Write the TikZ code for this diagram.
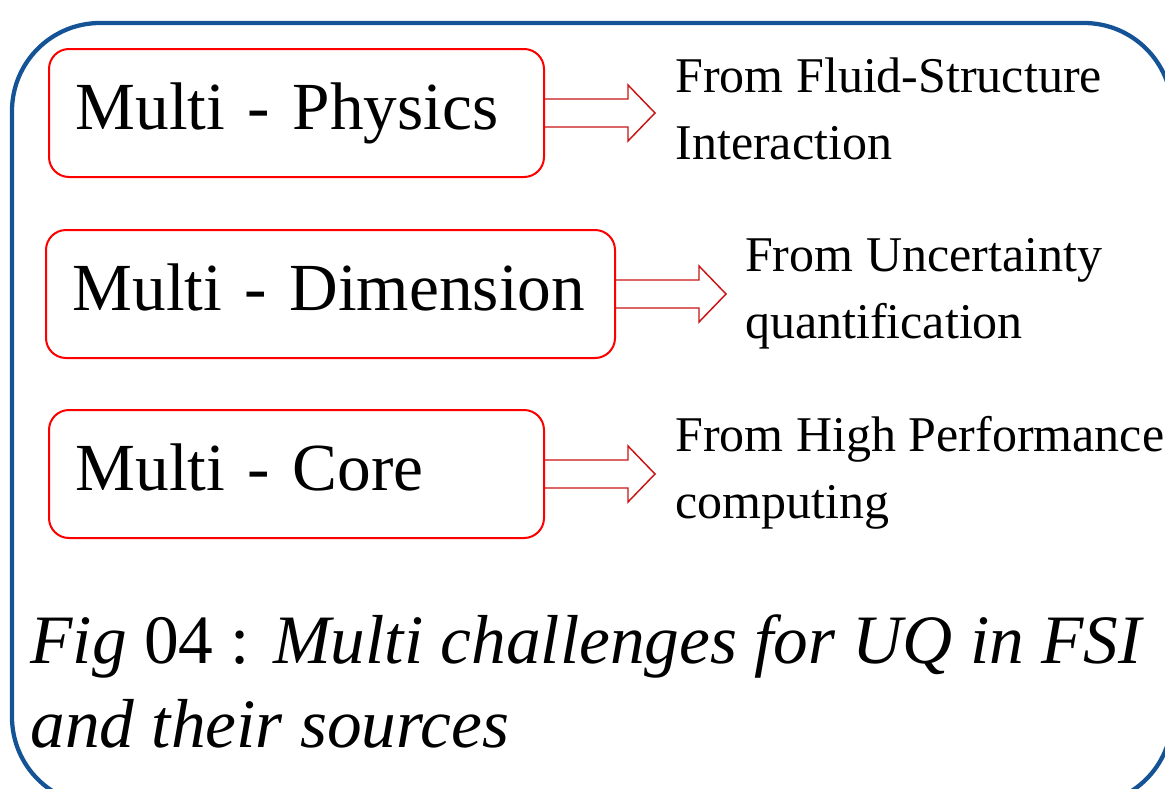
\documentclass[tikz,border=0pt]{standalone}
\usepackage{fontspec}
\setmainfont{Liberation Serif}
\usetikzlibrary{positioning}

\definecolor{framblue}{RGB}{20,84,150}
\definecolor{boxred}{RGB}{255,0,0}
\definecolor{arrred}{RGB}{200,20,20}

\tikzset{every picture/.style={line width=0.75pt}}
\tikzset{
  multibox/.style={draw=boxred, line width=1.5pt, rounded corners=15pt, align=left,
    inner xsep=20pt, inner ysep=0pt, minimum height=96pt, anchor=west,
    text height=24pt, text depth=0pt,
    font=\fontsize{50.5}{60}\selectfont},
  arrowline/.style={draw=arrred, line width=1.1pt, line join=miter},
  srctext/.style={align=left, inner sep=0pt, anchor=base west,
    font=\fontsize{37.5}{50}\selectfont},
  frameline/.style={draw=framblue, line width=3.2pt, rounded corners=66pt}
}

% block arrow leaving a box: #1 box, #2 name of the tip
\newcommand{\srcarrow}[2]{%
  \draw[arrowline] (#1.east) ++(0,-14) -- ++(83,0) -- ++(0,-14) -- ++(27,28) coordinate (#2)
    -- ++(-27,28) -- ++(0,-14) -- ++(-83,0);}

\begin{document}
\begin{tikzpicture}[x=0.75pt,y=0.75pt,yscale=-1,xscale=1]
	\useasboundingbox (0,0) rectangle (1165,789);
	\clip (0,0) rectangle (1165,789);

	% outer frame
	\draw[frameline] (12,23) rectangle (1172,805);

	% challenge boxes
	\node[multibox, text width=331.25pt] (phys) at (48,113) {Multi - Physics};
	\node[multibox, text width=386.75pt] (dimen) at (45,294) {\mbox{Multi - Dimension}};
	\node[multibox, text width=331.25pt] (core) at (48,474) {Multi - Core};

	% arrows
	\srcarrow{phys}{tipa}
	\srcarrow{dimen}{tipb}
	\srcarrow{core}{tipc}

	% sources (anchored on the last line)
	\node[srctext] (fsi) at ([xshift=15pt,yshift=34.5pt]tipa) {From Fluid-Structure\\Interaction};
	\node[srctext] (uq) at ([xshift=14pt,yshift=33pt]tipb) {From Uncertainty\\quantification};
	\node[srctext] (hpc) at ([xshift=15pt,yshift=33pt]tipc) {From High Performance\\computing};

	% caption
	\node[align=left, inner sep=0pt, anchor=base west, font=\fontsize{52}{63}\selectfont] (capt) at (30,747)
	  {\textit{Fig} 04 : \textit{Multi challenges for UQ in FSI}\\\textit{and their sources}};

\end{tikzpicture}
\end{document}
